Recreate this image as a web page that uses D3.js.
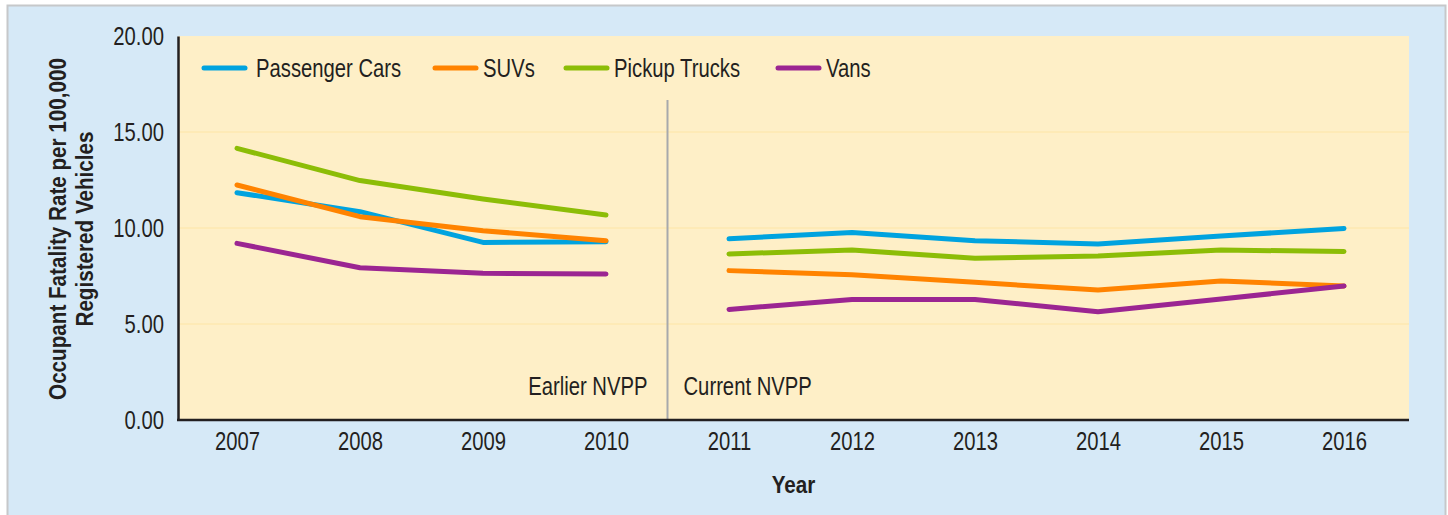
<!DOCTYPE html>
<html>
  <head>
    <meta charset="utf-8">
    <title>Occupant fatality rate by vehicle type</title>
    <script src="https://d3js.org/d3.v7.min.js"></script>
    <style>
      body { margin: 0; background: #fff; }
      svg text { font-family: "Liberation Sans", Arial, sans-serif; fill: #231f20; }
    </style>
  </head>
  <body>
    <div id="chart"></div>
    <script>
      // data
      const years = ["2007", "2008", "2009", "2010", "2011", "2012", "2013", "2014", "2015", "2016"];
      const passengerCars = [11.84, 10.85, 9.25, 9.29, 9.44, 9.77, 9.34, 9.17, 9.58, 9.98];
      const suvs = [12.24, 10.59, 9.86, 9.34, 7.78, 7.57, 7.17, 6.77, 7.24, 6.98];
      const pickupTrucks = [14.15, 12.47, 11.51, 10.68, 8.65, 8.85, 8.42, 8.54, 8.85, 8.78];
      const vans = [9.20, 7.93, 7.64, 7.60, 5.76, 6.28, 6.28, 5.64, 6.30, 6.98];
      const yTicks = [0, 5, 10, 15, 20];
      const earlierYears = years.slice(0, 4);
      const currentYears = years.slice(4);

      const series = [
        { name: "Passenger Cars", values: passengerCars, color: "#00a3df" },
        { name: "SUVs", values: suvs, color: "#ff8300" },
        { name: "Pickup Trucks", values: pickupTrucks, color: "#8cbd07" },
        { name: "Vans", values: vans, color: "#9b2592" }
      ];

      const width = 1448, height = 515;
      const plot = { left: 178, top: 36, right: 1409, bottom: 420 };

      // squeeze text horizontally so it looks like a condensed face
      function condense(sel, f) {
        sel.each(function() {
          const w = this.getComputedTextLength();
          d3.select(this)
            .attr("textLength", w * f)
            .attr("lengthAdjust", "spacingAndGlyphs");
        });
      }

      const svg = d3.select("#chart").append("svg")
        .attr("width", width)
        .attr("height", height);

      // outer panel
      svg.append("rect")
        .attr("x", 7.5).attr("y", 5.5)
        .attr("width", 1438).attr("height", 520)
        .attr("fill", "#d6e9f7")
        .attr("stroke", "#c6c8ca")
        .attr("stroke-width", 2);

      // plot background
      svg.append("rect")
        .attr("x", plot.left).attr("y", plot.top)
        .attr("width", plot.right - plot.left).attr("height", plot.bottom - plot.top)
        .attr("fill", "#feefc7");

      // scales
      const x = d3.scalePoint()
        .domain(years)
        .range([plot.left + 59, plot.right - 65]);
      const y = d3.scaleLinear()
        .domain([0, 20])
        .range([plot.bottom, plot.top]);

      // gridlines
      svg.append("g")
        .selectAll("line")
        .data(yTicks.filter(d => d > 0 && d < 20))
        .enter().append("line")
          .attr("x1", plot.left).attr("x2", plot.right)
          .attr("y1", d => y(d)).attr("y2", d => y(d))
          .attr("stroke", "#fde5a6")
          .attr("stroke-width", 1);

      // divider between the two survey designs
      const divX = (x("2010") + x("2011")) / 2;
      svg.append("line")
        .attr("x1", divX).attr("x2", divX)
        .attr("y1", 100).attr("y2", plot.bottom)
        .attr("stroke", "#a7a9ac")
        .attr("stroke-width", 2);
      const notes = svg.append("g").style("font-size", "25px");
      notes.append("text")
        .attr("x", divX - 20).attr("y", 395)
        .attr("text-anchor", "end")
        .text("Earlier NVPP");
      notes.append("text")
        .attr("x", divX + 16).attr("y", 395)
        .text("Current NVPP");
      condense(notes.selectAll("text"), 0.81);

      // axes
      const yAxis = svg.append("g")
        .attr("transform", "translate(" + plot.left + ",0)")
        .call(d3.axisLeft(y).tickValues(yTicks).tickSize(0).tickPadding(14).tickFormat(d3.format(".2f")));
      const xAxis = svg.append("g")
        .attr("transform", "translate(0," + plot.bottom + ")")
        .call(d3.axisBottom(x).tickSize(0).tickPadding(12));
      [yAxis, xAxis].forEach(a => {
        a.select(".domain").attr("stroke", "#231f20").attr("stroke-width", 2.5);
        a.selectAll("text")
          .style("font-family", "'Liberation Sans', Arial, sans-serif")
          .style("font-size", "25px")
          .attr("fill", "#231f20");
        condense(a.selectAll("text"), 0.81);
      });
      xAxis.select(".domain").attr("d", "M" + (plot.left - 1) + ",0H" + plot.right);

      // lines, drawn in two pieces either side of the divider
      const line = d3.line()
        .x(d => x(d.year))
        .y(d => y(d.value));
      series.forEach(s => {
        const pts = years.map((yr, i) => ({ year: yr, value: s.values[i] }));
        [pts.filter(p => earlierYears.includes(p.year)), pts.filter(p => currentYears.includes(p.year))].forEach(part => {
          svg.append("path")
            .datum(part)
            .attr("d", line)
            .attr("fill", "none")
            .attr("stroke", s.color)
            .attr("stroke-width", 5)
            .attr("stroke-linecap", "round")
            .attr("stroke-linejoin", "round");
        });
      });

      // legend
      const legendX = [204, 435, 566, 778];
      const legend = svg.append("g")
        .selectAll("g")
        .data(series)
        .enter().append("g")
          .attr("transform", (d, i) => "translate(" + legendX[i] + ",68)");
      legend.append("line")
        .attr("x1", 0).attr("x2", 41)
        .attr("stroke", d => d.color)
        .attr("stroke-width", 5)
        .attr("stroke-linecap", "round");
      legend.append("text")
        .attr("x", (d, i) => i == 0 ? 52 : 48)
        .attr("y", 9)
        .style("font-size", "25px")
        .text(d => d.name);
      condense(legend.selectAll("text"), 0.81);

      // axis titles
      const titles = svg.append("g")
        .style("font-size", "24px")
        .style("font-weight", "bold");
      titles.append("text")
        .attr("transform", "translate(66,229) rotate(-90)")
        .attr("text-anchor", "middle")
        .text("Occupant Fatality Rate per 100,000");
      titles.append("text")
        .attr("transform", "translate(93,229) rotate(-90)")
        .attr("text-anchor", "middle")
        .text("Registered Vehicles");
      titles.append("text")
        .attr("x", (plot.left + plot.right) / 2).attr("y", 493)
        .attr("text-anchor", "middle")
        .text("Year");
      condense(titles.selectAll("text"), 0.86);
    </script>
  </body>
</html>
